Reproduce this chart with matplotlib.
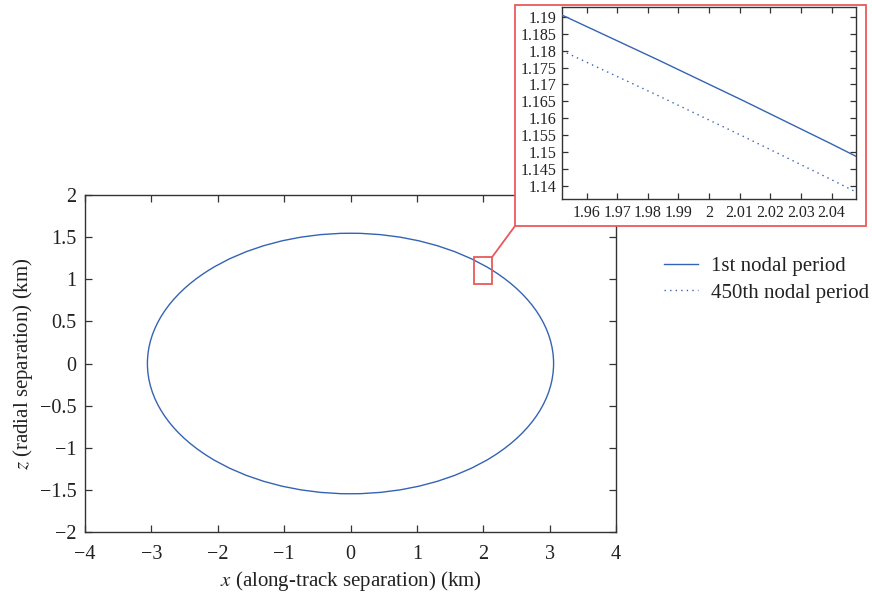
import matplotlib
matplotlib.use("Agg")
import matplotlib.pyplot as plt
from matplotlib.patches import Ellipse, Rectangle, ConnectionPatch
from matplotlib.lines import Line2D
from matplotlib.ticker import FuncFormatter

plt.rcParams["font.family"] = ["Liberation Serif", "DejaVu Serif"]
plt.rcParams["mathtext.fontset"] = "stix"

# ---------------------------------------------------------------------------
# Datos
# ---------------------------------------------------------------------------

# elipse relativa (km): semiejes x, z y centro
semi_x = 3.06
semi_z = 1.546
center_1st = (0.0, 0.0)
center_450 = (0.0, -0.0106)

series_labels = ["1st nodal period", "450th nodal period"]
series_styles = ["-", (0, (1, 3))]

main_xticks = [-4, -3, -2, -1, 0, 1, 2, 3, 4]
main_yticks = [-2, -1.5, -1, -0.5, 0, 0.5, 1, 1.5, 2]

zoom_xlim = (1.952, 2.048)
zoom_ylim = (1.136, 1.193)
zoom_xticks = [1.96, 1.97, 1.98, 1.99, 2.0, 2.01, 2.02, 2.03, 2.04]
zoom_yticks = [1.14, 1.145, 1.15, 1.155, 1.16, 1.165, 1.17, 1.175, 1.18, 1.185, 1.19]

# recuadro en el gráfico principal
zoom_box_x = (1.865, 2.135)
zoom_box_y = (0.945, 1.265)

BLUE = "#3563b3"
RED = "#e8595b"
AX_COLOR = "#333333"
TXT = "#222222"


def fmt_num(v, pos=None):
    return f"{v:g}".replace("-", "\u2212")


def style_axes(ax, size):
    for sp in ax.spines.values():
        sp.set_color(AX_COLOR)
        sp.set_linewidth(1.0)
    ax.tick_params(direction="in", top=True, right=True, length=5,
                   width=0.9, color=AX_COLOR, labelsize=size, labelcolor=TXT)


def add_orbits(ax, n_series):
    centers = [center_1st, center_450]
    for center, ls, z in list(zip(centers, series_styles, [3, 2]))[:n_series]:
        ax.add_patch(Ellipse(center, 2 * semi_x, 2 * semi_z, fill=False,
                             edgecolor=BLUE, linestyle=ls, linewidth=1.0, zorder=z))


fig = plt.figure(figsize=(8.72, 6.0), dpi=100)

# ---------------------------------------------------------------------------
# Gráfico principal
# ---------------------------------------------------------------------------
ax = fig.add_axes([0.0975, 0.1133, 0.6089, 0.5617])
add_orbits(ax, 1)  # a esta escala las dos órbitas se superponen
ax.set_xlim(-4, 4)
ax.set_ylim(-2, 2)
ax.set_xticks(main_xticks)
ax.set_yticks(main_yticks)
ax.xaxis.set_major_formatter(FuncFormatter(fmt_num))
ax.yaxis.set_major_formatter(FuncFormatter(fmt_num))
style_axes(ax, 14.5)
ax.tick_params(axis="x", pad=9)
ax.tick_params(axis="y", pad=6)
ax.set_xlabel("$x$ (along-track separation) (km)", fontsize=15, color=TXT, labelpad=4)
ax.set_ylabel("$z$ (radial separation) (km)", fontsize=15, color=TXT, labelpad=4)

ax.add_patch(Rectangle((zoom_box_x[0], zoom_box_y[0]),
                       zoom_box_x[1] - zoom_box_x[0], zoom_box_y[1] - zoom_box_y[0],
                       fill=False, edgecolor=RED, linewidth=1.3, zorder=5))

# ---------------------------------------------------------------------------
# Marco rojo del zoom
# ---------------------------------------------------------------------------
frame = Rectangle((0.5906, 0.6233), 0.4025, 0.3684, transform=fig.transFigure,
                  facecolor="white", edgecolor=RED, linewidth=1.3, zorder=3)
fig.add_artist(frame)

con = ConnectionPatch(xyA=(zoom_box_x[1], zoom_box_y[1]), coordsA=ax.transData,
                      xyB=(0.5906, 0.6233), coordsB=fig.transFigure,
                      color=RED, linewidth=1.3, zorder=3)
fig.add_artist(con)

# ---------------------------------------------------------------------------
# Inset
# ---------------------------------------------------------------------------
axz = fig.add_axes([0.6445, 0.6683, 0.3372, 0.32], zorder=4)
add_orbits(axz, 2)
axz.set_xlim(*zoom_xlim)
axz.set_ylim(*zoom_ylim)
axz.set_xticks(zoom_xticks)
axz.set_yticks(zoom_yticks)
axz.xaxis.set_major_formatter(FuncFormatter(fmt_num))
axz.yaxis.set_major_formatter(FuncFormatter(fmt_num))
style_axes(axz, 11.5)
axz.tick_params(length=4, pad=4)

# ---------------------------------------------------------------------------
# Leyenda
# ---------------------------------------------------------------------------
handles = [Line2D([], [], color=BLUE, linestyle=ls, linewidth=1.0) for ls in series_styles]
fig.legend(handles, series_labels, loc="upper left", bbox_to_anchor=(0.7615, 0.572),
           frameon=False, fontsize=15, handlelength=1.65, handletextpad=0.6,
           labelspacing=0.32, borderpad=0, borderaxespad=0, labelcolor=TXT)

fig.savefig("out.png", dpi=100, facecolor="white")
